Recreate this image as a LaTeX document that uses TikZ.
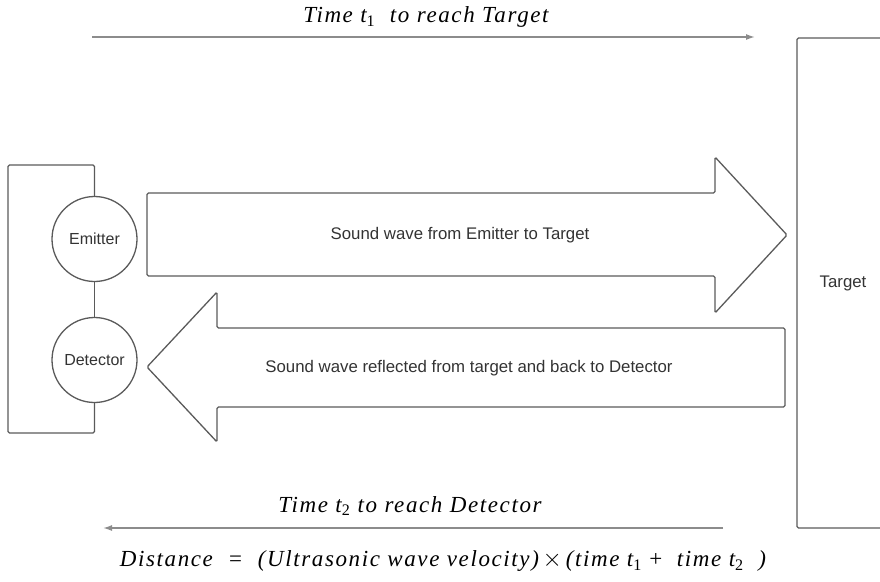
\documentclass[tikz,border=0pt]{standalone}
\usepackage{fontspec}
\setmainfont{Liberation Serif}
\newfontfamily\wavefont{Liberation Sans}
\newfontfamily\spacedfont[LetterSpace=7]{Liberation Serif}
\usetikzlibrary{arrows.meta, positioning, calc}
\definecolor{edgegray}{HTML}{5A5A5A}
\definecolor{linegray}{HTML}{8C8C8C}
\definecolor{textgray}{HTML}{333333}
\tikzset{
  shapeline/.style={draw=edgegray, line width=1.3pt, rounded corners=1.5pt},
  sensor/.style={circle, shapeline, minimum size=85pt, inner sep=0pt,
    font=\wavefont\fontsize{16}{18}\selectfont, text=textgray},
  wavetext/.style={font=\wavefont\fontsize{16.8}{19}\selectfont, text=textgray},
  timeline/.style={draw=linegray, line width=1.5pt, -{Latex[length=9pt,width=6pt]}},
  timetext/.style={font=\spacedfont\fontsize{23}{26}\selectfont\itshape}
}
\begin{document}
\begin{tikzpicture}[x=1pt,y=-1pt]
\useasboundingbox (0,0) rectangle (880,581);
\node[sensor] (emitter) at (94.5,239) {Emitter};
\node[sensor] (detector) at (94.5,360) {Detector};
\draw[shapeline] (emitter.north) -- (94.5,165) -- (8,165) -- (8,433) -- (94.5,433) -- (detector.south);
\draw[shapeline] (emitter.south) -- (detector.north);
\draw[shapeline] (147,193) -- (715,193) -- (715,157) -- (787,235) -- (715,313) -- (715,276) -- (147,276) -- cycle;
\draw[shapeline] (147,367) -- (217,292) -- (217,328) -- (785,328) -- (785,407) -- (217,407) -- (217,442) -- cycle;
\node[wavetext] (forward) at (460,235) {Sound wave from Emitter to Target};
\node[wavetext] (back) at (469,368) {Sound wave reflected from target and back to Detector};
\draw[shapeline] (889,38) -- (797,38) -- (797,528) -- (889,528);
\node[wavetext] (target) at (843,283) {Target};
\coordinate (t1start) at (92,37);
\coordinate (t1end) at (755,37);
\coordinate (t2start) at (723,528);
\coordinate (t2end) at (103,528);
\draw[timeline] (t1start) -- (t1end);
\draw[timeline] (t2start) -- (t2end);
\node[timetext] (t1label) at (426,17) {Time t\textsubscript{\upshape 1}\ \ to reach Target};
\node[timetext] (t2label) at (410,506) {Time t\textsubscript{\upshape 2} to reach Detector};
\node[timetext] (distance) at (443,561) {Distance\ \ =\ \ (Ultrasonic wave velocity)\,{\upshape$\times$}\,(time t\textsubscript{\upshape 1} {\upshape +}\ \ time t\textsubscript{\upshape 2}\ \ )};
\end{tikzpicture}
\end{document}
